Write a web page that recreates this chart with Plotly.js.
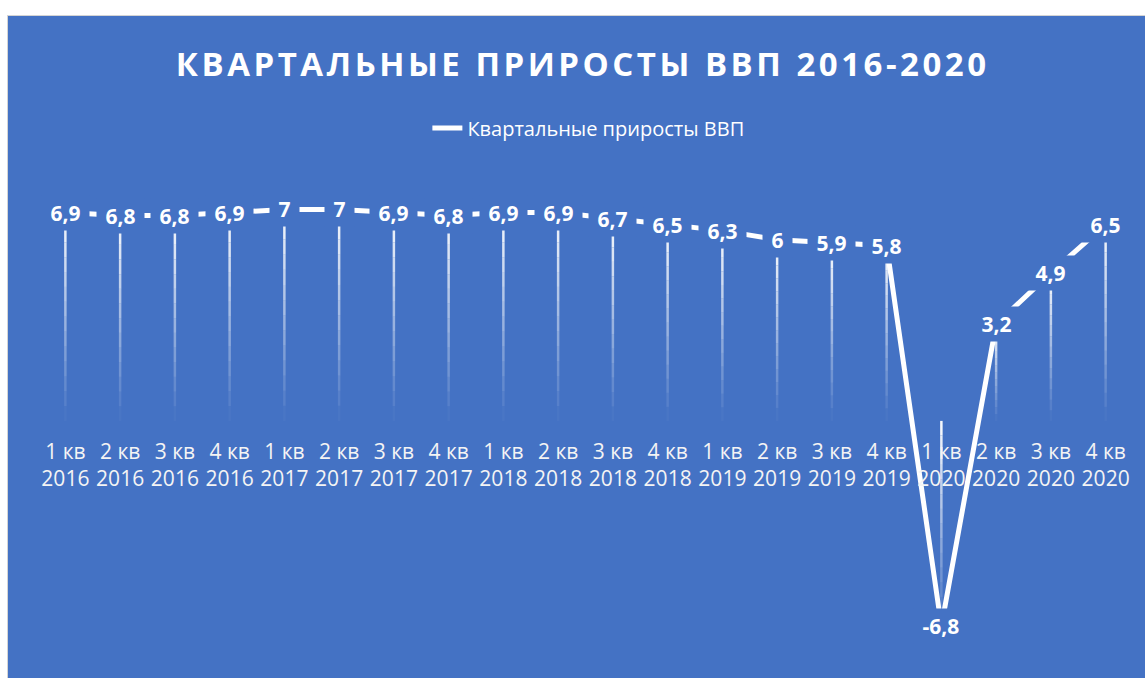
<!DOCTYPE html>
<html>
<head>
<meta charset="utf-8">
<script src="https://cdn.plot.ly/plotly-3.0.1.min.js"></script>
<style>
  html, body { margin: 0; padding: 0; background: #ffffff; width: 1145px; height: 678px; overflow: hidden; }
  #chart { position: absolute; left: 7px; top: 15px; width: 1138px; height: 663px;
           border-left: 1px solid #d4d4d4; border-top: 1px solid #d4d4d4; }
  #chart .gtitle { letter-spacing: 3.5px; }
</style>
</head>
<body>
<div id="chart"></div>
<script>
const categories = ['1 кв 2016','2 кв 2016','3 кв 2016','4 кв 2016',
                    '1 кв 2017','2 кв 2017','3 кв 2017','4 кв 2017',
                    '1 кв 2018','2 кв 2018','3 кв 2018','4 кв 2018',
                    '1 кв 2019','2 кв 2019','3 кв 2019','4 кв 2019',
                    '1 кв 2020','2 кв 2020','3 кв 2020','4 кв 2020'];
const tickText = ['1 кв<br>2016','2 кв<br>2016','3 кв<br>2016','4 кв<br>2016',
                  '1 кв<br>2017','2 кв<br>2017','3 кв<br>2017','4 кв<br>2017',
                  '1 кв<br>2018','2 кв<br>2018','3 кв<br>2018','4 кв<br>2018',
                  '1 кв<br>2019','2 кв<br>2019','3 кв<br>2019','4 кв<br>2019',
                  '1 кв<br>2020','2 кв<br>2020','3 кв<br>2020','4 кв<br>2020'];
const gdpGrowth = [6.9, 6.8, 6.8, 6.9, 7, 7, 6.9, 6.8, 6.9, 6.9, 6.7, 6.5,
                   6.3, 6, 5.9, 5.8, -6.8, 3.2, 4.9, 6.5];
const seriesName = 'Квартальные приросты ВВП';
const chartTitle = 'КВАРТАЛЬНЫЕ ПРИРОСТЫ ВВП 2016-2020';

const BLUE = '#4472C4';
const FONT = '"Open Sans", "Noto Sans", sans-serif';
const yMin = -7.52, yMax = 8.97;

const traces = [];
// Drop lines with a fading gradient (built as stacked segments)
const N = 14;
for (let k = 0; k < N; k++) {
  const xs = [], ys = [];
  categories.forEach((c, i) => {
    const top = Math.max(0, gdpGrowth[i]);
    const bot = Math.min(0, gdpGrowth[i]);
    xs.push(c, c, null);
    ys.push(top - (top - bot) * k / N, top - (top - bot) * (k + 1) / N, null);
  });
  const a = 0.95 - 0.92 * k / (N - 1);
  traces.push({
    type: 'scatter', mode: 'lines', x: xs, y: ys,
    line: { color: 'rgba(255,255,255,' + a.toFixed(3) + ')', width: 2.5 },
    showlegend: false, hoverinfo: 'skip', cliponaxis: false
  });
}
// Main line
traces.push({
  type: 'scatter', mode: 'lines', name: seriesName,
  x: categories, y: gdpGrowth,
  line: { color: '#ffffff', width: 5 },
  cliponaxis: false
});

// Data labels with opaque background, centered on points
const annotations = categories.map((c, i) => ({
  x: c, y: gdpGrowth[i], xref: 'x', yref: 'y',
  text: '\u00a0' + String(gdpGrowth[i]).replace('.', ',') + '\u00a0',
  showarrow: false, xanchor: 'center', yanchor: 'middle',
  bgcolor: BLUE, borderpad: 3,
  font: { family: FONT, size: 21, color: '#ffffff', weight: 'bold' }
}));

const zeroPos = (0 - yMin) / (yMax - yMin);

const layout = {
  width: 1138, height: 663,
  paper_bgcolor: BLUE, plot_bgcolor: BLUE,
  margin: { l: 30, r: 13, t: 134, b: 31 },
  title: {
    text: chartTitle, x: 0.505, xref: 'container', xanchor: 'center',
    y: 1 - 48 / 663, yref: 'container', yanchor: 'middle',
    font: { family: FONT, size: 33, color: '#ffffff', weight: 'bold' }
  },
  showlegend: true,
  legend: {
    orientation: 'h', x: 0.51, xref: 'container', xanchor: 'center',
    y: 1 - 112 / 663, yref: 'container', yanchor: 'middle',
    bgcolor: 'rgba(0,0,0,0)',
    font: { family: FONT, size: 20, color: '#ffffff' }
  },
  xaxis: {
    type: 'category', categoryorder: 'array', categoryarray: categories,
    range: [-0.5, categories.length - 0.5],
    tickvals: categories, ticktext: tickText, tickangle: 0,
    anchor: 'free', position: zeroPos,
    showgrid: false, zeroline: false, showline: false, ticks: '',
    ticklabelstandoff: 16,
    tickfont: { family: FONT, size: 21, color: '#f4f4f4' },
    fixedrange: true
  },
  yaxis: {
    range: [yMin, yMax], visible: false, showgrid: false, zeroline: false,
    fixedrange: true
  },
  annotations: annotations,
  hovermode: false
};

Plotly.newPlot('chart', traces, layout, { displayModeBar: false, staticPlot: true });
</script>
</body>
</html>
